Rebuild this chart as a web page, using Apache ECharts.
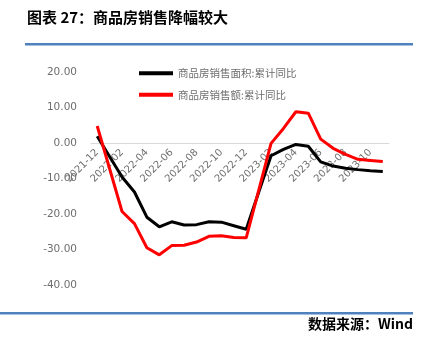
<!DOCTYPE html>
<html><head><meta charset="utf-8">
<script src="https://cdn.jsdelivr.net/npm/echarts@6/dist/echarts.min.js"></script>
<style>html,body{margin:0;padding:0;background:#fff}#c{width:424px;height:345px}</style>
</head><body><div id="c"></div>
<script>
var months = ['2021-12','2022-01','2022-02','2022-03','2022-04','2022-05','2022-06','2022-07','2022-08','2022-09','2022-10','2022-11','2022-12','2023-01','2023-02','2023-03','2023-04','2023-05','2023-06','2023-07','2023-08','2023-09','2023-10','2023-11'];
var areaYoY = [1.9, null, -9.6, -13.8, -20.9, -23.6, -22.2, -23.1, -23.0, -22.2, -22.3, -23.3, -24.3, null, -3.6, -1.8, -0.4, -0.9, -5.3, -6.5, -7.1, -7.5, -7.8, -8.0];
var salesYoY = [4.8, null, -19.3, -22.7, -29.5, -31.5, -28.9, -28.8, -27.9, -26.3, -26.1, -26.6, -26.7, null, -0.1, 4.1, 8.8, 8.4, 1.1, -1.5, -3.2, -4.6, -4.9, -5.2];
var seriesNames = ['商品房销售面积:累计同比', '商品房销售额:累计同比'];
var titleText = '图表 27：商品房销售降幅较大';
var sourceText = '数据来源：Wind';
var yMin = -40, yMax = 20, yStep = 10;

var chart = echarts.init(document.getElementById('c'), null, {renderer: 'canvas'});
chart.setOption({
  animation: false,
  backgroundColor: '#fff',
  graphic: [
    {type: 'text', left: 27, top: 10, style: {text: titleText, font: 'bold 15px "Noto Sans CJK SC"', fill: '#000'}},
    {type: 'rect', shape: {x: 25, y: 43, width: 388, height: 2.5}, style: {fill: '#4f81bd'}},
    {type: 'rect', shape: {x: 0, y: 312, width: 413, height: 2.5}, style: {fill: '#4f81bd'}},
    {type: 'text', right: 11, top: 317, style: {text: sourceText, font: 'bold 14px "Noto Sans CJK SC"', fill: '#000'}}
  ],
  legend: {
    orient: 'vertical', left: 139, top: 68, padding: 0, itemWidth: 34, itemHeight: 4, itemGap: 11,
    textStyle: {fontFamily: '"Noto Sans CJK SC"', fontSize: 10.5, color: '#6e6e6e'},
    data: [{name: seriesNames[0], icon: 'rect'}, {name: seriesNames[1], icon: 'rect'}]
  },
  grid: {left: 91, right: 35, top: 72, bottom: 60},
  xAxis: {
    type: 'category', data: months, boundaryGap: true, position: 'bottom', offset: 0,
    axisLine: {onZero: false, lineStyle: {color: '#d9d9d9', width: 1}},
    axisTick: {interval: 1, length: 4, lineStyle: {color: '#d9d9d9'}},
    axisLabel: {interval: 1, rotate: 45, margin: 8, fontSize: 10, color: '#6e6e6e', fontFamily: 'DejaVu Sans'},
    splitLine: {show: false}
  },
  yAxis: {
    type: 'value', min: yMin, max: yMax, interval: yStep,
    axisLine: {show: false}, axisTick: {show: false}, splitLine: {show: false},
    axisLabel: {margin: 14, fontSize: 10.5, color: '#6e6e6e', fontFamily: 'DejaVu Sans', formatter: function(v){return v.toFixed(2);}}
  },
  series: [
    {name: seriesNames[0], type: 'line', data: areaYoY, connectNulls: true, showSymbol: false, symbol: 'none', itemStyle: {color: '#000'}, lineStyle: {color: '#000', width: 3}},
    {name: seriesNames[1], type: 'line', data: salesYoY, connectNulls: true, showSymbol: false, symbol: 'none', itemStyle: {color: '#ff0000'}, lineStyle: {color: '#ff0000', width: 3}}
  ]
});
// place the category axis on the zero line of the value axis
var zeroPx = chart.convertToPixel({yAxisIndex: 0}, 0);
var bottomPx = chart.convertToPixel({yAxisIndex: 0}, yMin);
chart.setOption({xAxis: {offset: -(bottomPx - zeroPx)}});
</script></body></html>
